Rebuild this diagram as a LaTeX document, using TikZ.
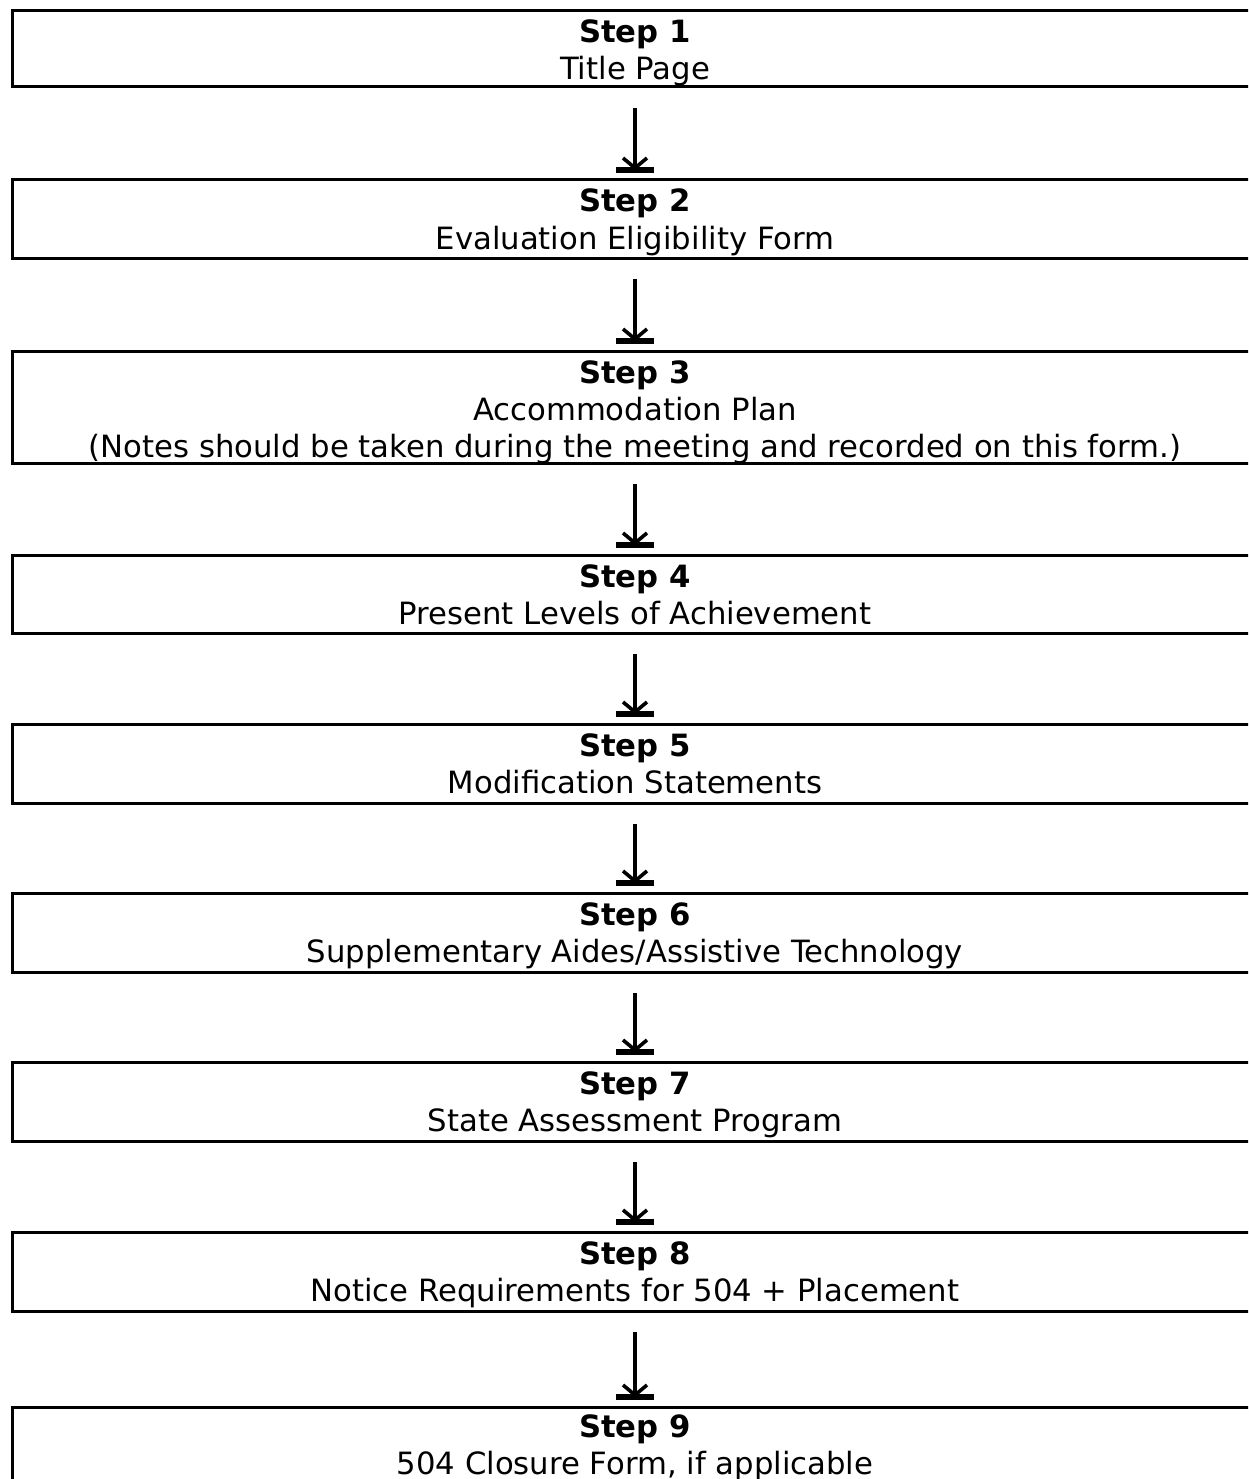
\documentclass[tikz,border=0pt]{standalone}
\usepackage{fontspec}
\setmainfont{DejaVu Sans}
\usetikzlibrary{calc}
\tikzset{
  stepbox/.style={draw=black, line width=3pt, rectangle, inner sep=0pt, outer sep=0pt,
    minimum width=1246pt, anchor=north west},
  steptext/.style={align=center, inner sep=0pt, anchor=base,
    font=\fontsize{30.7pt}{37pt}\selectfont},
  shaft/.style={line width=3.2pt},
  barb/.style={line width=3.6pt},
}
\begin{document}
\begin{tikzpicture}[x=1pt,y=1pt]
\useasboundingbox (0,0) rectangle (1248,-1479);
\clip (0,0) rectangle (1248,-1479);
% boxes (left edge at x=12, centre at x=635)
\node[stepbox, minimum height=76pt]  (b1) at (12,-11) {};
\node[stepbox, minimum height=78pt]  (b2) at (12,-180) {};
\node[stepbox, minimum height=112pt] (b3) at (12,-351) {};
\node[stepbox, minimum height=78pt]  (b4) at (12,-555) {};
\node[stepbox, minimum height=79pt]  (b5) at (12,-724) {};
\node[stepbox, minimum height=79pt]  (b6) at (12,-893) {};
\node[stepbox, minimum height=79pt]  (b7) at (12,-1062) {};
\node[stepbox, minimum height=79pt]  (b8) at (12,-1232) {};
\node[stepbox, minimum height=79pt]  (b9) at (12,-1407) {};
% texts (anchor = baseline of the last line)
\node[steptext] (t1) at (635,-80)   {\textbf{Step 1}\\Title Page};
\node[steptext] (t2) at (635,-249)  {\textbf{Step 2}\\Evaluation Eligibility Form};
\node[steptext] (t3) at (635,-457)  {\textbf{Step 3}\\Accommodation Plan\\(Notes should be taken during the meeting and recorded on this form.)};
\node[steptext] (t4) at (635,-624)  {\textbf{Step 4}\\Present Levels of Achievement};
\node[steptext] (t5) at (635,-793)  {\textbf{Step 5}\\Modification Statements};
\node[steptext] (t6) at (635,-962)  {\textbf{Step 6}\\Supplementary Aides/Assistive Technology};
\node[steptext] (t7) at (635,-1131) {\textbf{Step 7}\\State Assessment Program};
\node[steptext] (t8) at (635,-1301) {\textbf{Step 8}\\Notice Requirements for 504 + Placement};
\node[steptext] (t9) at (635,-1474) {\textbf{Step 9}\\504 Closure Form, if applicable};
% arrows
\foreach \a/\b in {b1/b2,b2/b3,b3/b4,b4/b5,b5/b6,b6/b7,b7/b8,b8/b9}{
  \coordinate (top) at ($(\a.south)+(0,-21)$);
  \coordinate (bar) at ($(\b.north)+(0,7)$);
  \draw[shaft] (top) -- ($(bar)+(0,5)$);
  \draw[barb] ($(bar)+(-12,15)$) -- ($(bar)+(0,5)$) -- ($(bar)+(12,15)$);
  \fill ($(bar)+(-19,0)$) rectangle ($(bar)+(19,6)$);
}
\end{tikzpicture}
\end{document}
